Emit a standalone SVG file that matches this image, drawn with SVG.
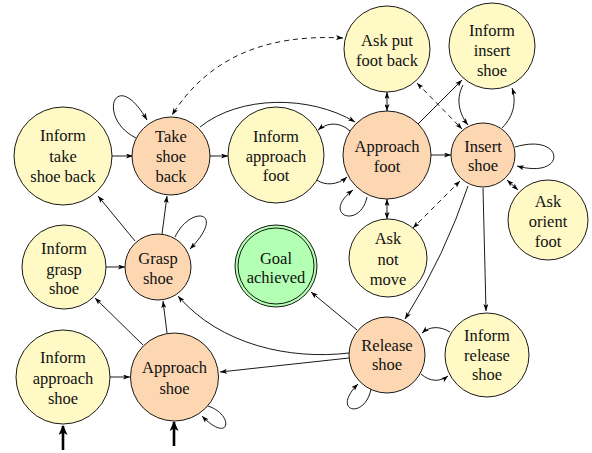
<svg xmlns="http://www.w3.org/2000/svg" width="592" height="453" viewBox="0 0 592 453">
<style>
.y{fill:#fff9c6;stroke:#000;stroke-width:0.9}
.o{fill:#fdd7b1;stroke:#000;stroke-width:0.9}
.g{fill:#b3ffb3;stroke:#000;stroke-width:0.9}
.gi{fill:none;stroke:#000;stroke-width:0.9}
text{font-family:"Liberation Serif","Times New Roman",serif;font-size:16.5px;text-anchor:middle;fill:#111}
.e{fill:none;stroke:#000;stroke-width:0.9;marker-end:url(#a)}
.d{fill:none;stroke:#000;stroke-width:0.9;marker-end:url(#a);marker-start:url(#a)}
.dash{stroke-dasharray:5,4}
.s{fill:none;stroke:#000;stroke-width:2.6;marker-end:url(#b)}
</style>
<defs>
<marker id="a" viewBox="0 0 7 5" refX="7" refY="2.5" markerWidth="7" markerHeight="5" orient="auto-start-reverse" markerUnits="userSpaceOnUse"><path d="M0,0 L7,2.5 L0,5 L1.8,2.5 z" fill="#000"/></marker>
<marker id="b" viewBox="0 0 10 9" refX="9" refY="4.5" markerWidth="10" markerHeight="9" orient="auto" markerUnits="userSpaceOnUse"><path d="M0,0 L10,4.5 L0,9 L2.5,4.5 z" fill="#000"/></marker>
</defs>
<g id="edges">
<path class="e" d="M112,156 L133,156"/>
<path class="e" d="M209,156 L228,156"/>
<path class="e" d="M136,138 C96,118 115,65 147,120"/>
<path class="e" d="M200,127 C240,95 310,95 355,122"/>
<path class="d dash" d="M343,38 C270,34 210,55 172,115"/>
<path class="e" d="M350,131 C340,122 328,122 318,130"/>
<path class="e" d="M317,180 C325,186 338,185 347,177"/>
<path class="e" d="M367,197 C360,230 320,215 353,190"/>
<path class="d" d="M387,92 L387,111"/>
<path class="d" d="M387,199 L387,219"/>
<path class="e" d="M430,155 L451,155"/>
<path class="e" d="M418,124 L462,80"/>
<path class="d dash" d="M417,83 L462,129"/>
<path class="d dash" d="M460,181 L413,228"/>
<path class="e" d="M463,85 C455,100 460,115 468,125"/>
<path class="e" d="M502,128 C515,115 516,100 512,88"/>
<path class="e" d="M515,147 C565,132 568,180 517,166"/>
<path class="d" d="M507,180 L518,190"/>
<path class="e" d="M468,186 Q445,255 405,319"/>
<path class="e" d="M483,188 L486,311"/>
<path class="e" d="M450,332 C440,326 430,326 422,333"/>
<path class="e" d="M421,374 C430,382 440,382 448,376"/>
<path class="e" d="M371,389 C365,420 330,412 358,384"/>
<path class="e" d="M357,330 L311,292"/>
<path class="e" d="M349,358 L220,372"/>
<path class="e" d="M349,353 C290,360 220,345 178,296"/>
<path class="e" d="M167,333 L163,301"/>
<path class="e" d="M143,345 L95,298"/>
<path class="e" d="M110,377 L130,377"/>
<path class="e" d="M208,406 C235,415 230,445 202,416"/>
<path class="e" d="M106,267 L125,267"/>
<path class="e" d="M175,237 C190,205 228,210 190,249"/>
<path class="e" d="M162,234 L167,196"/>
<path class="e" d="M135,241 L98,196"/>
<path class="s" d="M63,450 L63,426"/>
<path class="s" d="M174,446 L174,422"/>
</g>
<g id="inform_take_shoe_back"><circle class="y" cx="63" cy="156" r="49"/><text x="63" y="141">Inform</text><text x="63" y="161.5">take</text><text x="63" y="181.5">shoe back</text></g>
<g id="take_shoe_back"><circle class="o" cx="171" cy="156" r="39"/><text x="171" y="141.5">Take</text><text x="171" y="161.5">shoe</text><text x="171" y="181.5">back</text></g>
<g id="inform_approach_foot"><circle class="y" cx="276" cy="155" r="48"/><text x="276" y="141.5">Inform</text><text x="276" y="161.5">approach</text><text x="276" y="180.5">foot</text></g>
<g id="approach_foot"><circle class="o" cx="387" cy="155" r="44"/><text x="387" y="151.5">Approach</text><text x="387" y="171.5">foot</text></g>
<g id="insert_shoe"><circle class="o" cx="483" cy="155" r="32"/><text x="483" y="151.5">Insert</text><text x="483" y="170.5">shoe</text></g>
<g id="ask_put_foot_back"><circle class="y" cx="387" cy="49" r="43"/><text x="387" y="46">Ask put</text><text x="387" y="65.5">foot back</text></g>
<g id="inform_insert_shoe"><circle class="y" cx="492" cy="46" r="43"/><text x="492" y="35.5">Inform</text><text x="492" y="55.5">insert</text><text x="492" y="75.5">shoe</text></g>
<g id="ask_orient_foot"><circle class="y" cx="548" cy="220" r="40"/><text x="548" y="207">Ask</text><text x="548" y="227">orient</text><text x="548" y="246.5">foot</text></g>
<g id="ask_not_move"><circle class="y" cx="388" cy="258" r="39"/><text x="388" y="243.5">Ask</text><text x="388" y="264.5">not</text><text x="388" y="284.5">move</text></g>
<g id="release_shoe"><circle class="o" cx="387" cy="355" r="38"/><text x="387" y="350.5">Release</text><text x="387" y="369.5">shoe</text></g>
<g id="inform_release_shoe"><circle class="y" cx="487" cy="355" r="42"/><text x="487" y="340.5">Inform</text><text x="487" y="360.5">release</text><text x="487" y="379.5">shoe</text></g>
<g id="goal_achieved"><circle class="g" cx="276" cy="266" r="41"/><circle class="gi" cx="276" cy="266" r="38"/><text x="276" y="263.5">Goal</text><text x="276" y="282.5">achieved</text></g>
<g id="grasp_shoe"><circle class="o" cx="158" cy="267" r="33"/><text x="158" y="263.5">Grasp</text><text x="158" y="283.5">shoe</text></g>
<g id="inform_grasp_shoe"><circle class="y" cx="64" cy="267" r="42"/><text x="64" y="253.5">Inform</text><text x="64" y="274.5">grasp</text><text x="64" y="293.5">shoe</text></g>
<g id="inform_approach_shoe"><circle class="y" cx="63" cy="377" r="47"/><text x="63" y="362.5">Inform</text><text x="63" y="383.5">approach</text><text x="63" y="403.5">shoe</text></g>
<g id="approach_shoe"><circle class="o" cx="174.5" cy="377" r="44"/><text x="174.5" y="372.5">Approach</text><text x="174.5" y="393.5">shoe</text></g>
</svg>
